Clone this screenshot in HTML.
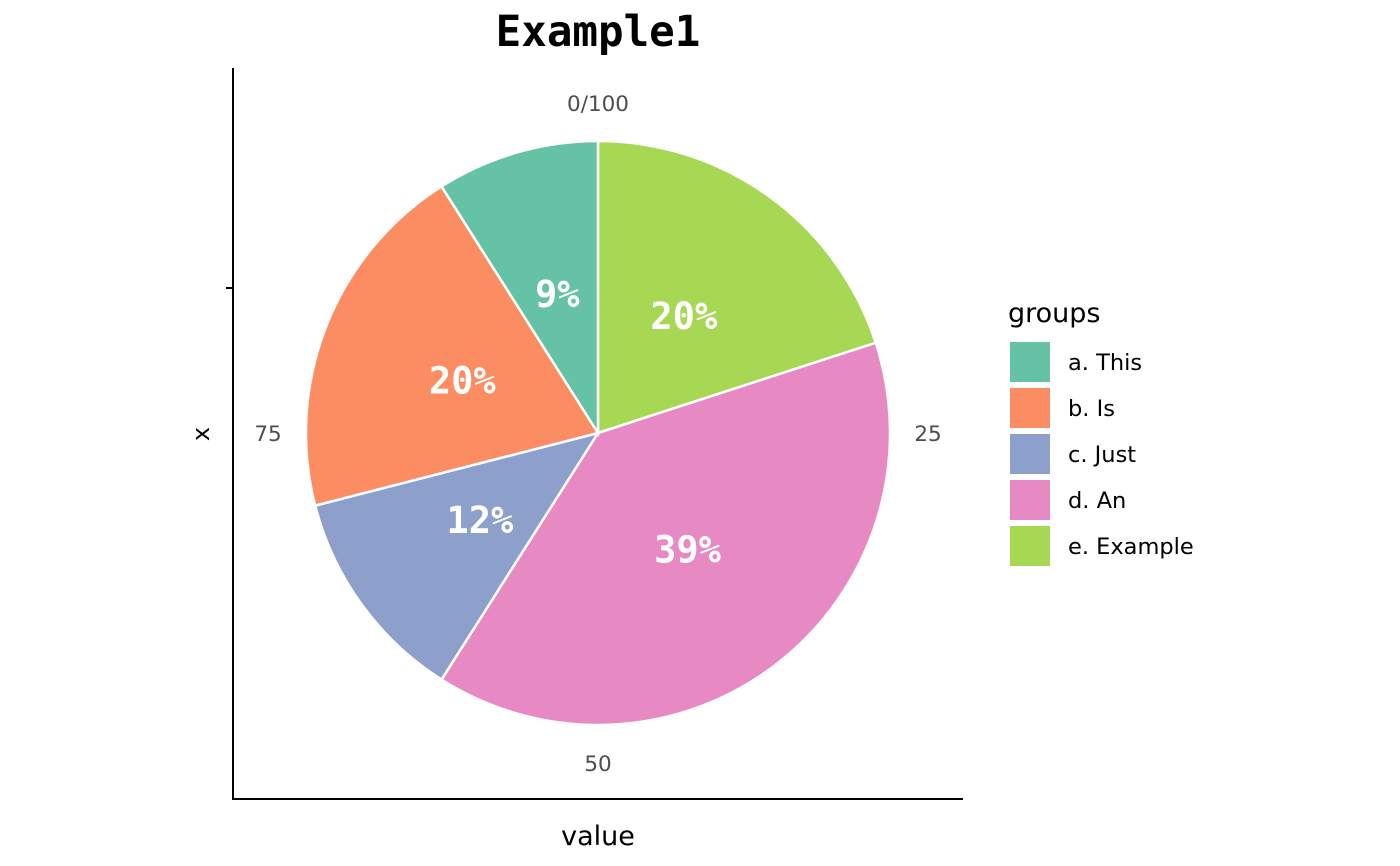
<!DOCTYPE html>
<html><head><meta charset="utf-8"><style>
html,body{margin:0;padding:0;background:#fff;}
svg{display:block;font-family:"DejaVu Sans","Liberation Sans",sans-serif;}
</style></head><body>
<svg id="chart" width="1400" height="866" viewBox="0 0 1400 866">
<text x="598" y="46" text-anchor="middle" font-family="DejaVu Sans Mono, Liberation Mono, monospace" font-weight="bold" font-size="42.5">Example1</text>
<line x1="233" y1="68" x2="233" y2="799" stroke="#000" stroke-width="2"/>
<line x1="232" y1="799" x2="963" y2="799" stroke="#000" stroke-width="2"/>
<line x1="226" y1="288" x2="233" y2="288" stroke="#000" stroke-width="2"/>
<text x="0" y="0" transform="translate(209,434) rotate(-90)" text-anchor="middle" font-size="24">x</text>
<text x="598" y="845" text-anchor="middle" font-size="27">value</text>
<g id="slices"></g>
<g id="labels"></g>
<g id="ticks"></g>
<g id="legend">
<text x="1008" y="322" font-size="27">groups</text>
</g>
</svg>
<script>
const categories = ["a. This","b. Is","c. Just","d. An","e. Example"];
const values = [9,20,12,39,20];
const colors = ["#66C2A5","#FC8D62","#8DA0CB","#E78AC3","#A6D854"];
const tickValues = [0,25,50,75];
const tickLabels = ["0/100","25","50","75"];

const NS="http://www.w3.org/2000/svg";
const cx=598, cy=433, R=292, labelR=146, tickR=330;
const total=values.reduce((a,b)=>a+b,0);
function pt(frac,r){const a=frac*2*Math.PI;return [cx+r*Math.sin(a), cy-r*Math.cos(a)];}
const order=[4,3,2,1,0];
let cum=0;
const sl=document.getElementById('slices'), lb=document.getElementById('labels');
order.forEach(i=>{
  const f0=cum/total, f1=(cum+values[i])/total; cum+=values[i];
  const [x0,y0]=pt(f0,R),[x1,y1]=pt(f1,R);
  const large=(f1-f0)>0.5?1:0;
  const p=document.createElementNS(NS,'path');
  p.setAttribute('d',`M${cx},${cy} L${x0},${y0} A${R},${R} 0 ${large} 1 ${x1},${y1} Z`);
  p.setAttribute('fill',colors[i]);p.setAttribute('stroke','#fff');p.setAttribute('stroke-width','2.5');
  
  
  sl.appendChild(p);
  const [lx,ly]=pt((f0+f1)/2,labelR);
  const t=document.createElementNS(NS,'text');
  t.setAttribute('x',lx);t.setAttribute('y',ly+14);t.setAttribute('text-anchor','middle');
  t.setAttribute('fill','#fff');t.setAttribute('font-size','37');t.setAttribute('font-weight','bold');
  t.setAttribute('font-family','DejaVu Sans Mono, Liberation Mono, monospace');
  t.textContent=Math.round(values[i]/total*100)+'%';
  
  
  lb.appendChild(t);
});
const tk=document.getElementById('ticks');
tickValues.forEach((v,k)=>{
  const [x,y]=pt(v/100,tickR);
  const t=document.createElementNS(NS,'text');
  t.setAttribute('x',x);t.setAttribute('y',y+8);t.setAttribute('text-anchor','middle');
  t.setAttribute('fill','#4d4d4d');t.setAttribute('font-size','21.5');
  t.textContent=tickLabels[k];
  
  
  tk.appendChild(t);
});
const lg=document.getElementById('legend');
categories.forEach((c,i)=>{
  const y=342+i*46;
  const r=document.createElementNS(NS,'rect');
  r.setAttribute('x',1010);r.setAttribute('y',y);r.setAttribute('width',40);r.setAttribute('height',40);r.setAttribute('fill',colors[i]);
  
  
  lg.appendChild(r);
  const t=document.createElementNS(NS,'text');
  t.setAttribute('x',1068);t.setAttribute('y',y+28);t.setAttribute('font-size','22.5');
  t.textContent=c;
  
  
  lg.appendChild(t);
});
</script>
</body></html>
